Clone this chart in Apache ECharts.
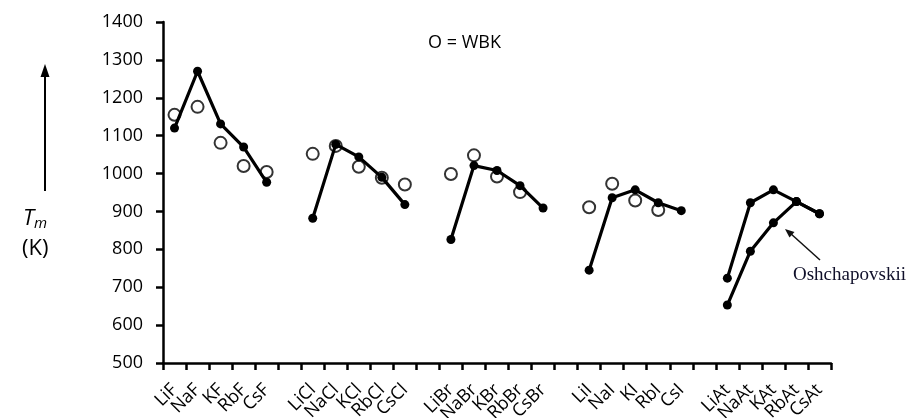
<!DOCTYPE html>
<html>
<head>
<meta charset="utf-8">
<script src="https://cdn.jsdelivr.net/npm/echarts@6/dist/echarts.min.js"></script>
<style>
  html, body { margin: 0; padding: 0; background: #fff; }
  #chart { width: 917px; height: 418px; }
</style>
</head>
<body>
<div id="chart"></div>
<script>
// Alkali halide families, separated by an empty slot between groups
const categories = [
  'LiF', 'NaF', 'KF', 'RbF', 'CsF', '',
  'LiCl', 'NaCl', 'KCl', 'RbCl', 'CsCl', '',
  'LiBr', 'NaBr', 'KBr', 'RbBr', 'CsBr', '',
  'LiI', 'NaI', 'KI', 'RbI', 'CsI', '',
  'LiAt', 'NaAt', 'KAt', 'RbAt', 'CsAt'
];

// Melting temperatures (K), filled dots joined per family
const meltingTemps = [
  1120, 1270, 1131, 1070, 977, null,
  882, 1077, 1044, 990, 918, null,
  826, 1021, 1008, 968, 909, null,
  745, 936, 957, 923, 902, null,
  724, 923, 957, 926, 894
];

// WBK estimates (open circles)
const wbkTemps = [
  1155, 1176, 1081, 1020, 1004, null,
  1052, 1073, 1018, 989, 971, null,
  999, 1048, 992, 951, null, null,
  911, 973, 929, 904, null, null,
  null, null, null, null, null
];

// Oshchapovskii values for the astatides
const oshchapovskiiTemps = [
  null, null, null, null, null, null,
  null, null, null, null, null, null,
  null, null, null, null, null, null,
  null, null, null, null, null, null,
  653, 795, 870, 926, 894
];

const yTicks = { min: 500, max: 1400, step: 100 };

const labelFont = '"Open Sans", "DejaVu Sans", sans-serif';
const ink = '#000';

const chart = echarts.init(document.getElementById('chart'), null, { renderer: 'canvas' });

chart.setOption({
  animation: false,
  backgroundColor: '#fff',
  grid: { left: 163, right: 86, top: 22, bottom: 55, outerBoundsMode: 'none' },
  xAxis: {
    type: 'category',
    data: categories,
    boundaryGap: true,
    axisLine: { show: true, lineStyle: { color: ink, width: 2.5 } },
    axisTick: { show: true, interval: 0, length: 7, lineStyle: { color: ink, width: 2.5 } },
    axisLabel: {
      interval: 0,
      rotate: 45,
      margin: 24,
      color: ink,
      fontFamily: labelFont,
      fontSize: 18
    },
    splitLine: { show: false }
  },
  yAxis: {
    type: 'value',
    min: yTicks.min,
    max: yTicks.max,
    interval: yTicks.step,
    axisLine: { show: true, lineStyle: { color: ink, width: 2.5 } },
    axisTick: { show: true, length: 7, lineStyle: { color: ink, width: 2.5 } },
    axisLabel: {
      margin: 20,
      color: ink,
      fontFamily: labelFont,
      fontSize: 18,
      formatter: (v) => String(v)
    },
    splitLine: { show: false }
  },
  series: [
    {
      name: 'WBK',
      type: 'scatter',
      data: wbkTemps,
      symbol: 'circle',
      symbolSize: 12,
      itemStyle: { color: '#fff', borderColor: ink, borderWidth: 2 },
      z: 2
    },
    {
      name: 'Tm',
      type: 'line',
      data: meltingTemps,
      connectNulls: false,
      symbol: 'circle',
      symbolSize: 9,
      showAllSymbol: true,
      lineStyle: { color: ink, width: 3.2 },
      itemStyle: { color: ink },
      z: 3
    },
    {
      name: 'Oshchapovskii',
      type: 'line',
      data: oshchapovskiiTemps,
      connectNulls: false,
      symbol: 'circle',
      symbolSize: 9,
      showAllSymbol: true,
      lineStyle: { color: ink, width: 3.2 },
      itemStyle: { color: ink },
      z: 3
    }
  ],
  graphic: [
    {
      type: 'text',
      left: 428, top: 34,
      style: { text: 'O = WBK', fill: ink, font: '18px "Open Sans", sans-serif' }
    },
    // upward arrow beside the axis title
    {
      type: 'line',
      shape: { x1: 45, y1: 191, x2: 45, y2: 76 },
      style: { stroke: ink, lineWidth: 2 }
    },
    {
      type: 'polygon',
      shape: { points: [[45, 64], [40.5, 77], [49.5, 77]] },
      style: { fill: ink }
    },
    {
      type: 'text',
      left: 23, top: 208,
      style: {
        text: '{t|T}{s|m}',
        rich: {
          t: { fontFamily: labelFont, fontSize: 22, fontStyle: 'italic', fill: ink },
          s: { fontFamily: labelFont, fontSize: 15, fontStyle: 'italic', fill: ink, padding: [10, 0, 0, 0] }
        }
      }
    },
    {
      type: 'text',
      left: 22, top: 238,
      style: { text: '(K)', fill: ink, font: '22px "Open Sans", sans-serif' }
    },
    // pointer to the Oshchapovskii curve
    {
      type: 'line',
      shape: { x1: 820, y1: 260, x2: 790, y2: 233 },
      style: { stroke: '#111', lineWidth: 1.5 }
    },
    {
      type: 'polygon',
      shape: { points: [[785, 229], [794.5, 232], [789.5, 237.5]] },
      style: { fill: '#111' }
    },
    {
      type: 'text',
      left: 793, top: 266,
      style: { text: 'Oshchapovskii', fill: '#10102a', font: '19px "Liberation Serif", "DejaVu Serif", serif' }
    }
  ]
});
</script>
</body>
</html>
